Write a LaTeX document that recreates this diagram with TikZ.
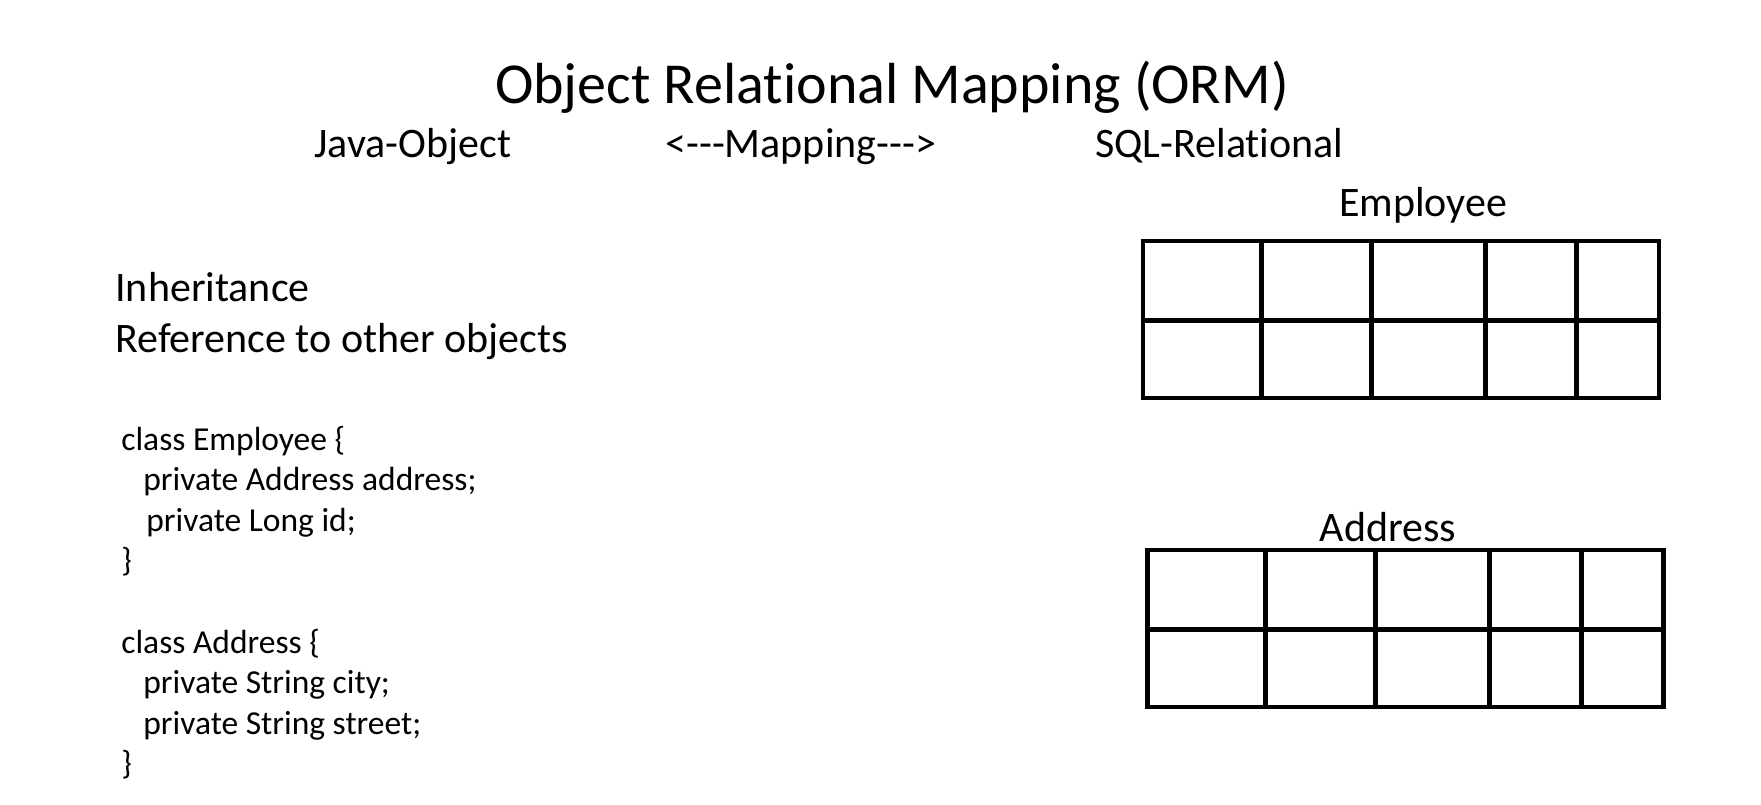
\documentclass[tikz,border=0pt]{standalone}
\usepackage{fontspec}
\setmainfont{Carlito}[Ligatures=NoCommon]
\usetikzlibrary{positioning,calc}
\newcommand{\hy}{\mbox{-}}

\begin{document}
\begin{tikzpicture}[x=0.5pt,y=-0.5pt,inner sep=0pt]
  \tikzstyle{heading}=[font=\fontsize{21}{25}\selectfont,anchor=base west]
  \tikzstyle{code}=[font=\fontsize{16.75}{20.1}\selectfont,align=left,anchor=north west]
  \tikzstyle{tbl}=[draw,line width=2.4pt,minimum width=258pt,minimum height=78.5pt]
  \tikzstyle{grid}=[line width=2.4pt]
  \useasboundingbox[fill=white] (0,0) rectangle (1761,804);
  % Title and headings
  \node[font=\fontsize{29}{34}\selectfont,anchor=base] (title) at (892,103) {Object Relational Mapping (ORM)};
  \node[heading] (java) at (314,157) {Java-Object};
  \node[heading] (map)  at (665,157) {<\hy\hy\hy Mapping\hy\hy\hy>};
  \node[heading] (sql)  at (1095,157) {SQL-Relational};
  \node[heading] (inh)  at (115,301) {Inheritance};
  \node[heading] (ref)  at (115,352) {Reference to other objects};
  % Java classes
  \node[code] (empcls) at (121,426) {class Employee \{\\
    \hspace*{11pt}private Address address;\\
    \hspace*{12.5pt}private Long id;\\
    \}};
  \node[code] (addrcls) at (121,629) {class Address \{\\
    \hspace*{11pt}private String city;\\
    \hspace*{11pt}private String street;\\
    \}};
  % Tables
  \node[tbl] (emptab) at (1401,319.5) {};
  \node[heading,anchor=base] (emplbl) at (1423,216) {Employee};
  \draw[grid] ($(emptab.north west)+(0,82)$) -- ($(emptab.north east)+(0,82)$);
  \foreach \dx in {120.5,230.5,344.5,436}
    \draw[grid] ($(emptab.north west)+(\dx,0)$) -- ($(emptab.south west)+(\dx,0)$);
  \node[tbl] (addrtab) at (1405.5,628.5) {};
  \node[heading,anchor=base] (addrlbl) at (1388,541) {Address};
  \draw[grid] ($(addrtab.north west)+(0,82)$) -- ($(addrtab.north east)+(0,82)$);
  \foreach \dx in {120.5,230.5,344.5,436}
    \draw[grid] ($(addrtab.north west)+(\dx,0)$) -- ($(addrtab.south west)+(\dx,0)$);
\end{tikzpicture}
\end{document}
